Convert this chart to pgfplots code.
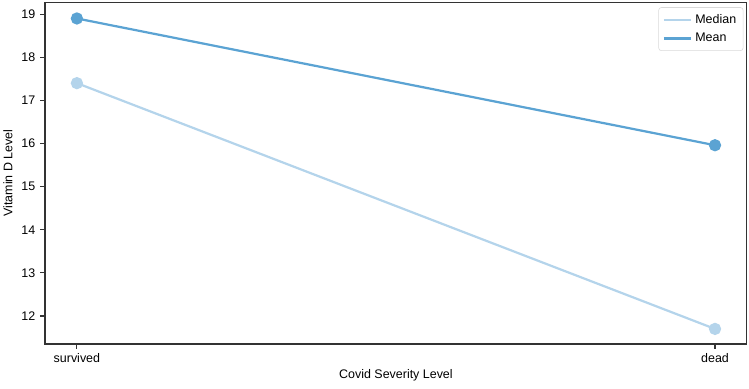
\documentclass[border=0pt]{standalone}
\usepackage{pgfplots}
\pgfplotsset{compat=1.18}
\usepackage{fontspec}
\setmainfont{Liberation Sans}
\definecolor{medc}{HTML}{B4D4EB}
\definecolor{meanc}{HTML}{5BA3D3}
\definecolor{axc}{HTML}{333333}
\begin{document}
\begin{tikzpicture}
\path[use as bounding box] (-32.4bp,-31.7bp) rectangle (506.9bp,247.7bp);
\begin{axis}[
  at={(0,0)}, anchor=south west,
  scale only axis, width=505.4bp, height=246.2bp,
  xmin=-0.05, xmax=1.05, ymin=11.35, ymax=19.28,
  xtick={0,1}, xticklabels={survived,dead},
  ytick={12,13,14,15,16,17,18,19},
  tick align=outside, tick pos=left,
  major tick length=3.5pt,
  every tick/.style={axc, line width=0.8pt},
  axis line style={axc, line width=0.8pt},
  tick label style={font=\fontsize{9pt}{11pt}\selectfont, black},
  /pgf/number format/assume math mode=true,
  xlabel={Covid Severity Level}, ylabel={Vitamin D Level},
  label style={font=\fontsize{9pt}{11pt}\selectfont},
  xlabel style={yshift=2pt},
  ylabel style={yshift=-0.5pt},
  legend image code/.code={\draw[#1, mark=none] (0cm,0cm) -- (0.7cm,0cm);},
  legend style={font=\fontsize{9pt}{11pt}\selectfont, draw=black!15, rounded corners=2pt, inner xsep=3pt, inner ysep=3pt, row sep=1.5pt, at={(0.995,0.985)}, anchor=north east},
  legend cell align=left,
]
\addplot[medc, line width=1.6bp, mark=*, mark size=3.6bp, mark options={solid, fill=medc, draw=medc}] coordinates {(0,17.4) (1,11.7)};
\addlegendentry{Median}
\addplot[meanc, line width=1.6bp, mark=*, mark size=3.6bp, mark options={solid, fill=meanc, draw=meanc}] coordinates {(0,18.9) (1,15.96)};
\addlegendentry{Mean}
\end{axis}
\end{tikzpicture}
\end{document}
